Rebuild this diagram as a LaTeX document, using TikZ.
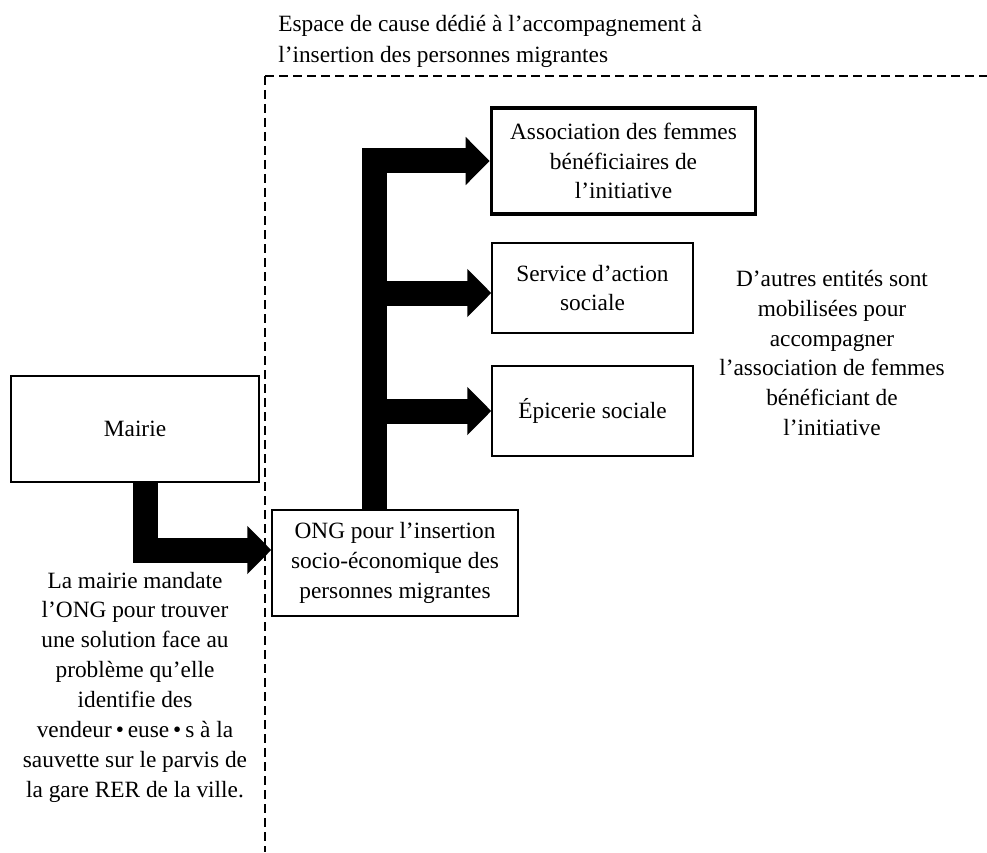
\documentclass[tikz,border=0pt]{standalone}
\usepackage{fontspec}
\setmainfont{Liberation Serif}
\usetikzlibrary{arrows.meta}
\begin{document}
\begin{tikzpicture}[x=0.75pt,y=-0.75pt,
  font=\fontsize{17.5}{22.4}\selectfont,
  box/.style={draw, line width=1.1pt, inner sep=0pt, align=center},
  fat/.style={line width=18.75pt, -{Triangle[length=18pt,width=35.25pt]}},
  dashline/.style={line width=1.2pt, dash pattern=on 7pt off 3.5pt},
  txt/.style={inner sep=0pt, align=center}]
\useasboundingbox (0,0) rectangle (987,852);
% dashed frame
\draw[dashline] (265,76) -- (987,76);
\draw[dashline] (265,76) -- (265,852);
\node[inner sep=0pt, align=left, anchor=west, font=\fontsize{17.5}{23.2}\selectfont] (title) at (278,41)
  {Espace de cause dédié à l’accompagnement à\\l’insertion des personnes migrantes};
% boxes
\node[box, minimum width=186pt, minimum height=79.5pt] (mairie) at (135,429) {Mairie};
\node[box, line width=2.4pt, minimum width=198.5pt, minimum height=79.5pt] (assoc) at (623.5,161)
  {Association des femmes\\bénéficiaires de\\l’initiative};
\node[box, minimum width=150.75pt, minimum height=67.5pt] (service) at (592.5,288)
  {Service d’action\\sociale};
\node[box, minimum width=150.75pt, minimum height=67.5pt] (epicerie) at (592.5,411)
  {Épicerie sociale};
\node[box, minimum width=184.5pt, minimum height=79.5pt] (ong) at (395,563)
  {ONG pour l’insertion\\socio-économique des\\personnes migrantes};
% captions
\node[txt] (cap1) at (135,687)
  {La mairie mandate\\l’ONG pour trouver\\une solution face au\\problème qu’elle\\identifie des\\vendeur\,\textbullet\,euse\,\textbullet\,s à la\\sauvette sur le parvis de\\la gare RER de la ville.};
\node[txt] (cap2) at (832,353)
  {D’autres entités sont\\mobilisées pour\\accompagner\\l’association de femmes\\bénéficiant de\\l’initiative};
% arrows
\coordinate (bar) at ([xshift=-15.75pt]ong.north);
\draw[fat] ([xshift=7.5pt]mairie.south) |- ([yshift=9.75pt]ong.west);
\draw[fat] (bar) |- (assoc.west);
\draw[fat] (bar |- service.west) ++(0,5) -- ([yshift=-3.75pt]service.west);
\draw[fat] (bar |- epicerie.west) -- (epicerie.west);
\end{tikzpicture}
\end{document}
